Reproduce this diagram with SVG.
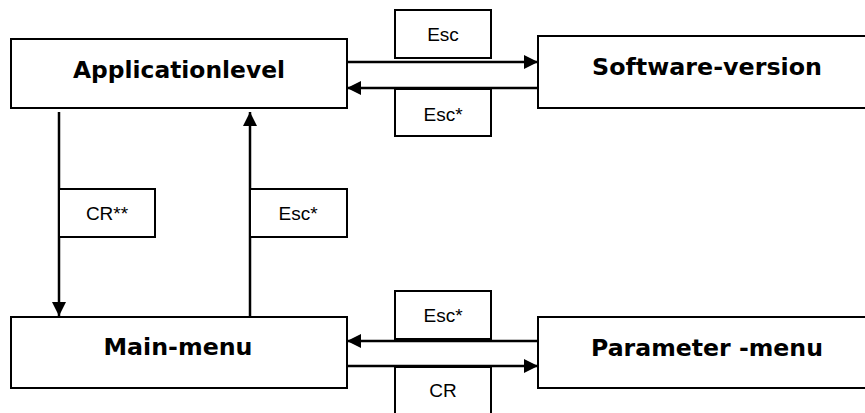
<svg xmlns="http://www.w3.org/2000/svg" width="865" height="413" viewBox="0 0 865 413">
  <style>
    .box { fill: #fff; stroke: #000; stroke-width: 2; }
    .lbl { fill: #fff; stroke: #000; stroke-width: 2; }
    .title { font-family: "DejaVu Sans", Verdana, sans-serif; font-weight: bold; font-size: 23px; text-anchor: middle; fill: #000; }
    .tag { font-family: "Liberation Sans", Arial, sans-serif; font-size: 19px; text-anchor: middle; fill: #000; }
    .edge { stroke: #000; stroke-width: 2.5; fill: none; }
  </style>
  <defs>
    <marker id="arrow" viewBox="0 0 14 14" refX="14" refY="7" markerWidth="14" markerHeight="14" markerUnits="userSpaceOnUse" orient="auto">
      <path d="M0,0 L14,7 L0,14 Z" fill="#000"/>
    </marker>
  </defs>
  <rect width="865" height="413" fill="#fff"/>

  <!-- state boxes -->
  <g id="applicationlevel">
    <rect class="box" x="11" y="39" width="336" height="69"/>
    <text class="title" x="179" y="78" textLength="212" lengthAdjust="spacingAndGlyphs">Applicationlevel</text>
  </g>
  <g id="software-version">
    <rect class="box" x="538" y="36" width="340" height="72"/>
    <text class="title" x="707" y="75" textLength="230" lengthAdjust="spacingAndGlyphs">Software-version</text>
  </g>
  <g id="main-menu">
    <rect class="box" x="11" y="317" width="336" height="71"/>
    <text class="title" x="178" y="355" textLength="149" lengthAdjust="spacingAndGlyphs">Main-menu</text>
  </g>
  <g id="parameter-menu">
    <rect class="box" x="538" y="317" width="340" height="71"/>
    <text class="title" x="707" y="356" textLength="232" lengthAdjust="spacingAndGlyphs">Parameter -menu</text>
  </g>

  <!-- transitions with their key labels -->
  <g id="connectors">
    <line class="edge" x1="347" y1="62" x2="538" y2="62" marker-end="url(#arrow)"/>
    <line class="edge" x1="538" y1="88" x2="347" y2="88" marker-end="url(#arrow)"/>
    <line class="edge" x1="59" y1="112" x2="59" y2="316" marker-end="url(#arrow)"/>
    <line class="edge" x1="250" y1="317" x2="250" y2="112" marker-end="url(#arrow)"/>
    <line class="edge" x1="538" y1="341" x2="347" y2="341" marker-end="url(#arrow)"/>
    <line class="edge" x1="347" y1="366" x2="538" y2="366" marker-end="url(#arrow)"/>

    <g id="lbl-esc-top">
      <rect class="lbl" x="395" y="10" width="96" height="48"/>
      <text class="tag" x="443" y="41">Esc</text>
    </g>
    <g id="lbl-esc-back-top">
      <rect class="lbl" x="395" y="89" width="96" height="47"/>
      <text class="tag" x="443" y="121">Esc*</text>
    </g>
    <g id="lbl-cr-down">
      <rect class="lbl" x="59" y="189" width="96" height="48"/>
      <text class="tag" x="107" y="220">CR**</text>
    </g>
    <g id="lbl-esc-up">
      <rect class="lbl" x="250" y="189" width="97" height="48"/>
      <text class="tag" x="298" y="220">Esc*</text>
    </g>
    <g id="lbl-esc-back-bottom">
      <rect class="lbl" x="395" y="291" width="96" height="48"/>
      <text class="tag" x="443" y="322">Esc*</text>
    </g>
    <g id="lbl-cr-right">
      <rect class="lbl" x="395" y="367" width="96" height="60"/>
      <text class="tag" x="443" y="397">CR</text>
    </g>
  </g>
</svg>
